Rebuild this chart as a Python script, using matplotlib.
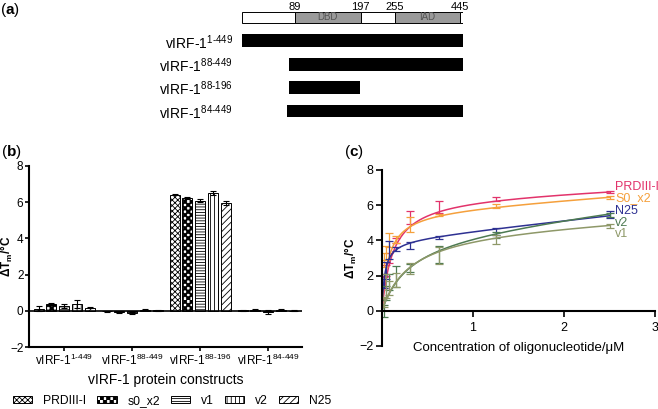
import warnings
import numpy as np
import matplotlib
matplotlib.use('Agg')
import matplotlib.pyplot as plt
from matplotlib import hatch as mhatch
from matplotlib.path import Path
from matplotlib.transforms import ScaledTranslation

warnings.filterwarnings('ignore', message='hatch must consist')

plt.rcParams['font.family'] = ['Liberation Sans', 'DejaVu Sans']
plt.rcParams['mathtext.fontset'] = 'custom'
plt.rcParams['mathtext.rm'] = 'Liberation Sans'
plt.rcParams['mathtext.it'] = 'Liberation Sans:italic'
plt.rcParams['mathtext.bf'] = 'Liberation Sans:bold'
plt.rcParams['hatch.linewidth'] = 0.6

# ---- (a) domain map of vIRF-1 ----
domain_starts = [1, 89, 197, 255, 445]
domain_ends = [89, 197, 255, 445, 449]
domain_names = ['', 'DBD', '', 'IAD', '']
boundary_marks = [89, 197, 255, 445]
construct_ranges = ['1-449', '88-449', '88-196', '84-449']
construct_starts = [1, 88, 88, 84]
construct_ends = [449, 449, 196, 449]

# ---- (b) delta Tm per construct and oligo ----
oligos = ['PRDIII-I', 's0_x2', 'v1', 'v2', 'N25']
dtm_prdiii = [0.12, -0.03, 6.42, 0.02]
dtm_s0x2 = [0.38, -0.08, 6.22, 0.07]
dtm_v1 = [0.28, -0.10, 6.07, -0.05]
dtm_v2 = [0.38, 0.05, 6.52, 0.07]
dtm_n25 = [0.18, 0.02, 5.97, 0.00]
err_prdiii = [0.12, 0.02, 0.04, 0.02]
err_s0x2 = [0.05, 0.04, 0.04, 0.03]
err_v1 = [0.12, 0.05, 0.08, 0.12]
err_v2 = [0.20, 0.03, 0.10, 0.03]
err_n25 = [0.05, 0.02, 0.12, 0.02]

# ---- (c) titration with oligonucleotide ----
conc = [0.0195, 0.039, 0.078, 0.156, 0.3125, 0.625, 1.25, 2.5]
c_prdiii = [1.6, 2.3, 3.0, 4.0, 5.3, 5.9, 6.35, 6.75]
c_prdiii_err = [0.3, 0.3, 0.3, 0.15, 0.35, 0.35, 0.1, 0.08]
c_s0x2 = [2.9, 3.3, 4.0, 4.05, 4.9, 5.45, 5.95, 6.45]
c_s0x2_err = [0.4, 0.4, 0.4, 0.2, 0.45, 0.06, 0.12, 0.08]
c_n25 = [1.7, 2.3, 3.45, 3.5, 3.7, 4.18, 4.5, 5.45]
c_n25_err = [0.4, 0.5, 0.5, 0.1, 0.2, 0.08, 0.18, 0.2]
c_v2 = [0.0, 1.0, 1.65, 1.95, 2.45, 3.2, 4.3, 5.45]
c_v2_err = [0.35, 0.4, 0.45, 0.6, 0.22, 0.5, 0.15, 0.1]
c_v1 = [0.5, 1.4, 1.3, 1.75, 2.4, 3.15, 4.05, 4.82]
c_v1_err = [0.3, 0.7, 0.4, 0.4, 0.3, 0.5, 0.25, 0.14]
# one site total binding fit: y = Bmax*x/(Kd+x) + NS*x
fit_bmax = [6.55, 5.73, 4.03, 4.48, 4.73]
fit_kd = [0.12, 0.07, 0.03, 0.30, 0.30]
fit_ns = [0.20, 0.35, 0.567, 0.60, 0.25]
c_names = ['PRDIII-I', 'S0_x2', 'N25', 'v2', 'v1']
c_label_y = [7.05, 6.4, 5.65, 5.0, 4.35]
c_colors = ['#e2336b', '#f5a03c', '#2e3192', '#4d7a52', '#8e9868']


class CheckerHatch(mhatch.HatchPatternBase):
    # checkerboard fill, selected with 'c' in the hatch string
    def __init__(self, hatch, density):
        self.n = 30 * hatch.count('c')
        self.num_vertices = (self.n * self.n // 2) * 5

    def set_vertices_and_codes(self, vertices, codes):
        n = self.n
        s = 1.0 / n
        k = 0
        for i in range(n):
            for j in range(n):
                if (i + j) % 2:
                    continue
                x0, y0 = i * s, j * s
                vertices[k:k + 5] = [(x0, y0), (x0 + s, y0), (x0 + s, y0 + s),
                                     (x0, y0 + s), (x0, y0)]
                codes[k:k + 5] = [Path.MOVETO, Path.LINETO, Path.LINETO,
                                  Path.LINETO, Path.CLOSEPOLY]
                k += 5


mhatch._hatch_types.append(CheckerHatch)

fig = plt.figure(figsize=(6.58, 4.09), dpi=100)

# panel (a)
res_anchor = [1, 88, 89, 196, 255, 445, 449]
px_anchor = [242, 289, 295, 360, 395, 460, 463]
fwd = lambda x: np.interp(x, res_anchor, px_anchor)
inv = lambda y: np.interp(y, px_anchor, res_anchor)

axa = fig.add_axes([242 / 658, 1 - 122.7 / 409, 221 / 658, 116.9 / 409])
axa.set_xscale('function', functions=(fwd, inv))
for s, e, name in zip(domain_starts, domain_ends, domain_names):
    axa.barh(0, e - s, left=s, height=0.47,
             color='#9a9a9a' if name else 'white', edgecolor='black', lw=0.7)
    if name:
        axa.text((s + e) / 2, 0, name, ha='center', va='center',
                 fontsize=7, color='#555555')
for b in boundary_marks:
    axa.text(b, -0.24, str(b), ha='center', va='bottom', fontsize=8)
rows = np.arange(1, len(construct_ranges) + 1)
axa.barh(rows, np.array(construct_ends) - np.array(construct_starts),
         left=construct_starts, height=0.55, color='black')
axa.set_xlim(1, 449)
axa.set_ylim(4.5, -0.5)
axa.set_yticks(rows)
axa.set_yticklabels(['vIRF-1$^{%s}$' % r.replace('-', '\u2010') for r in construct_ranges],
                    fontsize=10)
axa.tick_params(axis='y', length=0, pad=6.5)
axa.set_xticks([])
for sp in axa.spines.values():
    sp.set_visible(False)

# panel (b)
axb = fig.add_axes([29 / 658, 1 - 347 / 409, 273 / 658, 181 / 409])
xg = np.arange(4)
dtm_all = [dtm_prdiii, dtm_s0x2, dtm_v1, dtm_v2, dtm_n25]
err_all = [err_prdiii, err_s0x2, err_v1, err_v2, err_n25]
hatches = ['xxxxxx', 'c', '------', '||||', '/////']
for i, (name, vals, errs, h) in enumerate(zip(oligos, dtm_all, err_all, hatches)):
    axb.bar(xg + (i - 2) * 0.1875, vals, width=0.147, yerr=errs,
            facecolor='white', edgecolor='black', hatch=h, lw=0.7, label=name,
            error_kw=dict(elinewidth=0.8, capsize=2, capthick=0.8, ecolor='black'))
axb.axhline(0, color='black', lw=1.2)
axb.set_xlim(-0.515, 3.5)
axb.set_ylim(-2, 8)
axb.set_yticks([-2, 0, 2, 4, 6, 8])
axb.set_xticks(xg)
axb.set_xticklabels(['vIRF-1$^{%s}$' % r.replace('-', '\u2010') for r in construct_ranges])
for lab in axb.get_xticklabels():
    lab.set_transform(lab.get_transform() + ScaledTranslation(-0.05, 0, fig.dpi_scale_trans))
axb.tick_params(labelsize=8.5, width=1.2, length=3, pad=1.5)
axb.tick_params(axis='y', pad=1)
axb.spines['top'].set_visible(False)
axb.spines['right'].set_visible(False)
axb.spines['left'].set_linewidth(1.5)
axb.spines['bottom'].set_linewidth(1.5)
axb.set_xlabel('vIRF-1 protein constructs', fontsize=10, labelpad=3)
axb.set_ylabel('ΔT$_{\\mathbf{m}}$/°C', fontsize=8.5, fontweight='bold')
axb.yaxis.set_label_coords(-0.05, 0.5)
fig.legend(*axb.get_legend_handles_labels(), loc='center left',
           bbox_to_anchor=(13 / 658, 1 - 401 / 409), ncol=5, frameon=False,
           fontsize=8.7, handlelength=1.6, handleheight=0.5,
           handletextpad=0.9, columnspacing=0.9, borderpad=0, borderaxespad=0)

# panel (c)
axc = fig.add_axes([382 / 658, 1 - 346 / 409, 273 / 658, 176 / 409])
series = [(c_prdiii, c_prdiii_err), (c_s0x2, c_s0x2_err), (c_n25, c_n25_err),
          (c_v2, c_v2_err), (c_v1, c_v1_err)]
xfit = np.linspace(0, max(conc), 400)
for (m, e), bmax, kd, ns, col, name, ly in zip(series, fit_bmax, fit_kd, fit_ns,
                                               c_colors, c_names, c_label_y):
    axc.plot(xfit, bmax * xfit / (kd + xfit) + ns * xfit, color=col, lw=1.1)
    axc.errorbar(conc, m, yerr=e, fmt='none', ecolor=col, elinewidth=0.9,
                 capsize=3, capthick=0.9)
    axc.text(2.56, ly, name, color=col, fontsize=9, va='center', ha='left',
             clip_on=False)
axc.set_xlim(0, 3)
axc.set_ylim(-2, 8)
axc.set_xticks([1, 2, 3])
axc.set_yticks([-2, 0, 2, 4, 6, 8])
axc.spines['top'].set_visible(False)
axc.spines['right'].set_visible(False)
axc.spines['bottom'].set_position(('data', 0))
axc.spines['left'].set_linewidth(1.5)
axc.spines['bottom'].set_linewidth(1.5)
axc.tick_params(labelsize=9, width=1.2, length=4, pad=2)
axc.tick_params(axis='x', pad=4)
axc.set_xlabel('Concentration of oligonucleotide/μM', fontsize=9.5, labelpad=6)
axc.set_ylabel('ΔT$_{\\mathbf{m}}$/°C', fontsize=8.5, fontweight='bold')
axc.yaxis.set_label_coords(-0.085, 0.5)

fig.text(10 / 658, 1 - 10 / 409, r'($\mathbf{a}$)', fontsize=11, ha='center', va='center')
fig.text(11 / 658, 1 - 152 / 409, r'($\mathbf{b}$)', fontsize=11, ha='center', va='center')
fig.text(354 / 658, 1 - 152 / 409, r'($\mathbf{c}$)', fontsize=11, ha='center', va='center')

fig.savefig('out.png', dpi=100)
